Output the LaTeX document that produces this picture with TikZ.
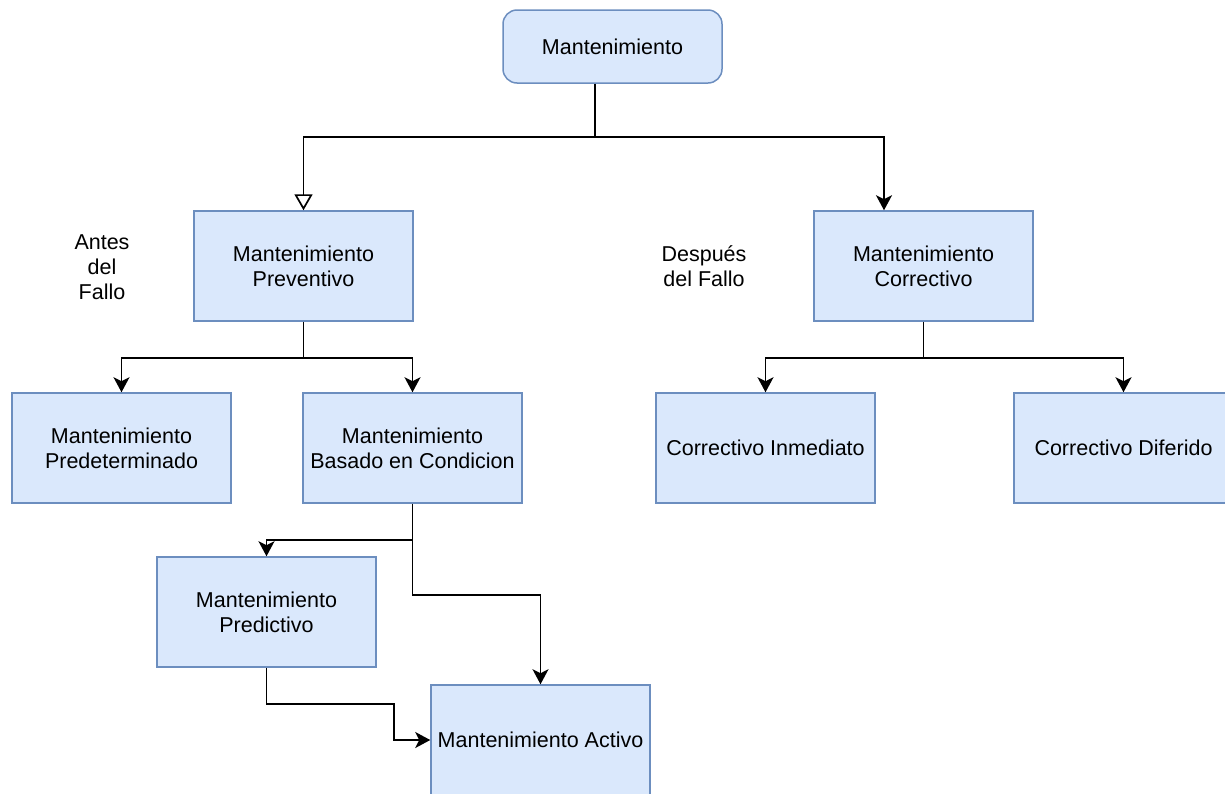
\documentclass[tikz,border=0pt]{standalone}
\usepackage{fontspec}
\setmainfont{Liberation Sans}
\usetikzlibrary{arrows.meta}
\definecolor{boxfill}{HTML}{DAE8FC}
\definecolor{boxline}{HTML}{6C8EBF}
\begin{document}
\begin{tikzpicture}[x=1pt,y=-1pt,
  box/.style={draw=boxline,fill=boxfill,line width=1.5pt,minimum width=219pt,minimum height=110pt,inner sep=0pt,align=center,font=\fontsize{21.5}{25}\selectfont},
  lbl/.style={align=center,font=\fontsize{21.5}{25}\selectfont,inner sep=0pt},
  conn/.style={draw=black,line width=1.7pt},
  arr/.style={conn,arrows={-Stealth[length=15pt,width=16pt,inset=4pt]}},
  openarr/.style={conn,arrows={-Triangle[open,length=16pt,width=18pt,fill=white]}}]
\useasboundingbox (0,0) rectangle (1225,793);
\node[box,rounded corners=14pt,minimum height=73pt] (mant) at (612.5,46.5) {Mantenimiento};
\node[box] (prev) at (303.5,266) {Mantenimiento\\Preventivo};
\node[box] (corr) at (923.5,266) {Mantenimiento\\Correctivo};
\node[box] (pdet) at (121.5,448) {Mantenimiento\\Predeterminado};
\node[box] (bas) at (412.5,448) {Mantenimiento\\Basado en Condicion};
\node[box] (inm) at (765.5,448) {Correctivo Inmediato};
\node[box] (dif) at (1123.5,448) {Correctivo Diferido};
\node[box] (pred) at (266.5,612) {Mantenimiento\\Predictivo};
\node[box] (act) at (540.5,740) {Mantenimiento Activo};
\node[lbl] (antes) at (102,267) {Antes\\del\\Fallo};
\node[lbl] (desp) at (704,266) {Después\\del Fallo};
\draw[openarr] ([xshift=-17.5pt]mant.south) -- ++(0,53) -| (prev.north);
\draw[arr] ([xshift=-17.5pt]mant.south) -- ++(0,53) -| ([xshift=-39.5pt]corr.north);
\draw[arr] (prev.south) -- ++(0,36) -| (pdet.north);
\draw[arr] (prev.south) -- ++(0,36) -| (bas.north);
\draw[arr] (corr.south) -- ++(0,36) -| (inm.north);
\draw[arr] (corr.south) -- ++(0,36) -| (dif.north);
\draw[arr] (bas.south) -- ++(0,36) -| (pred.north);
\draw[arr] (bas.south) -- ++(0,91) -| (act.north);
\draw[arr] (pred.south) -- ++(0,36) -| ([xshift=-36pt]act.west) -- (act.west);
\end{tikzpicture}
\end{document}
